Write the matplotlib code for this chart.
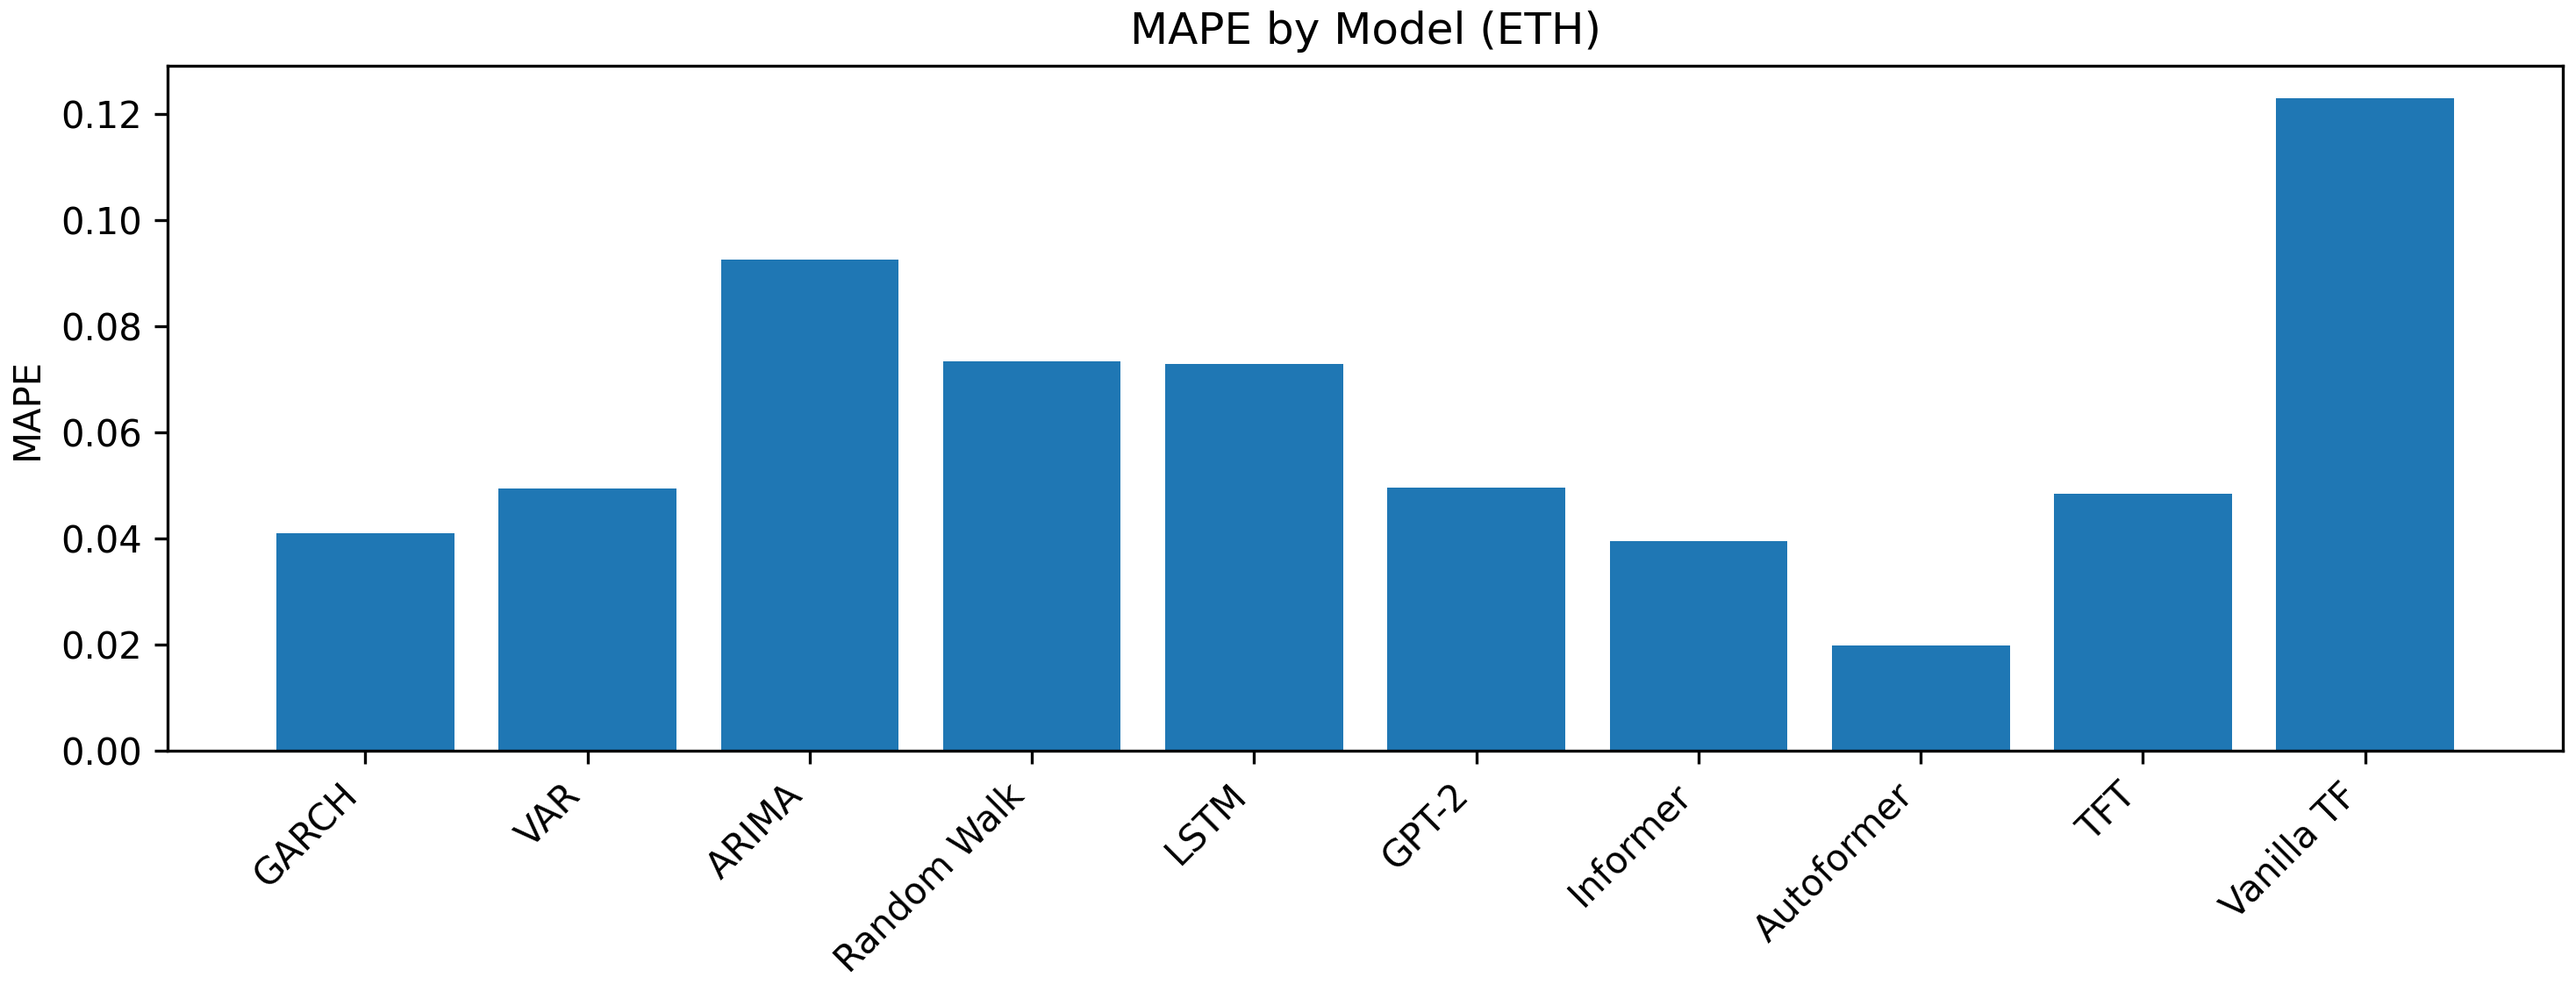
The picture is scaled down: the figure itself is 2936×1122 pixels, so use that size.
import matplotlib
matplotlib.use("Agg")
import matplotlib.pyplot as plt

models = ['GARCH', 'VAR', 'ARIMA', 'Random Walk', 'LSTM', 'GPT-2',
          'Informer', 'Autoformer', 'TFT', 'Vanilla TF']
mape = [0.0411, 0.0494, 0.0926, 0.0735, 0.0729, 0.0497,
        0.0396, 0.0198, 0.0485, 0.1230]

fig, ax = plt.subplots(figsize=(9.79, 3.74), dpi=300)
ax.bar(models, mape, color='#1f77b4')
ax.set_title('MAPE by Model (ETH)')
ax.set_ylabel('MAPE')
plt.setp(ax.get_xticklabels(), rotation=45, ha='right')
fig.subplots_adjust(left=0.065, right=0.9946, top=0.933, bottom=0.237)
fig.savefig('out.png', dpi=300)
